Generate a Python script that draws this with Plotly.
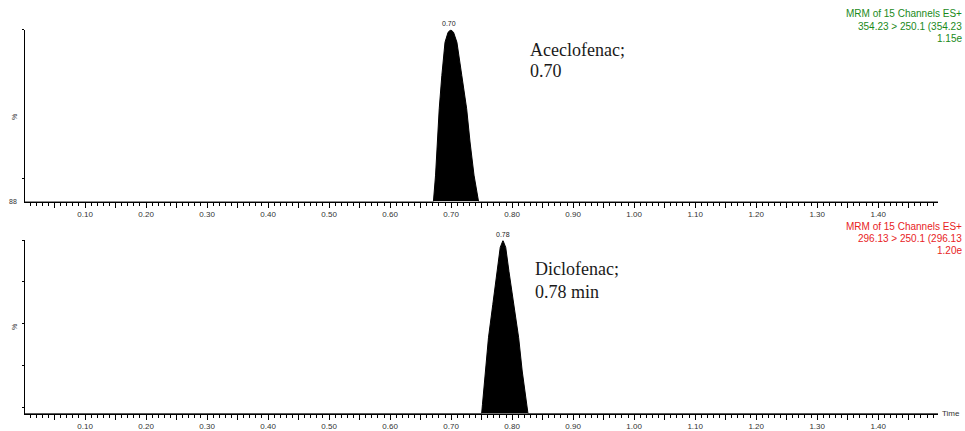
import plotly.graph_objects as go

# ---- data ----
# Aceclofenac peak (time in min, intensity in %)
ace_time = [0.0, 0.671, 0.6745, 0.6775, 0.6805, 0.6848, 0.6900, 0.6950, 0.6995,
            0.7040, 0.7095, 0.7175, 0.7255, 0.7310, 0.7375, 0.7450, 1.498]
ace_int = [0, 0, 15.4, 34.7, 54.0, 73.4, 92.7, 98.5, 100,
           98.5, 92.7, 73.4, 54.0, 34.7, 15.4, 0, 0]

# Diclofenac peak
dic_time = [0.0, 0.7500, 0.7514, 0.7558, 0.7612, 0.7683, 0.7759, 0.7805, 0.7850,
            0.7895, 0.7948, 0.8029, 0.8107, 0.8165, 0.8232, 0.8260, 1.498]
dic_int = [0, 0, 5.4, 24.6, 43.8, 63.0, 82.1, 96.0, 100,
           96.0, 82.1, 63.0, 43.8, 24.6, 5.4, 0, 0]

tick_vals = [round(0.05 * i, 2) for i in range(1, 30)]
tick_text = [f"{v:.2f}" if i % 2 == 1 else "" for i, v in enumerate(tick_vals)]

top_header = ["MRM of 15 Channels ES+", "354.23 > 250.1 (354.23", "1.15e"]
bot_header = ["MRM of 15 Channels ES+", "296.13 > 250.1 (296.13", "1.20e"]

W, H = 965, 431
def px(x):
    return x / W
def py(y):
    return (H - y) / H

fig = go.Figure()
fig.add_trace(go.Scatter(x=ace_time, y=ace_int, mode="lines", fill="tozeroy",
                         fillcolor="black", line=dict(color="black", width=1),
                         xaxis="x", yaxis="y", showlegend=False, hoverinfo="skip"))
fig.add_trace(go.Scatter(x=dic_time, y=dic_int, mode="lines", fill="tozeroy",
                         fillcolor="black", line=dict(color="black", width=1),
                         xaxis="x2", yaxis="y2", showlegend=False, hoverinfo="skip"))

xrange = [0.0016, 1.498]
tickfont = dict(family="Liberation Sans, Arial", size=8, color="#333333")

def xaxis_cfg(anchor):
    return dict(domain=[px(25), px(938)], range=xrange, anchor=anchor,
                showline=True, linecolor="black", linewidth=1,
                showgrid=False, zeroline=False,
                tickmode="array", tickvals=tick_vals, ticktext=tick_text,
                ticks="outside", ticklen=5, tickwidth=1, tickcolor="black",
                tickfont=tickfont,
                minor=dict(dtick=0.01, tick0=0, ticks="outside", ticklen=3,
                           tickwidth=1, tickcolor="black", showgrid=False))

def yaxis_cfg(anchor, dom, tv):
    return dict(domain=dom, range=[0, 100], anchor=anchor,
                showline=True, linecolor="black", linewidth=1,
                showgrid=False, zeroline=False,
                tickmode="array", tickvals=tv, ticktext=[""] * len(tv),
                ticks="outside", ticklen=2, tickwidth=1, tickcolor="black")

fig.update_layout(
    width=W, height=H,
    margin=dict(l=0, r=0, t=0, b=0),
    paper_bgcolor="white", plot_bgcolor="white",
    xaxis=xaxis_cfg("y"),
    yaxis=yaxis_cfg("x", [py(203.5), py(30)], [13.5, 100]),
    xaxis2=xaxis_cfg("y2"),
    yaxis2=yaxis_cfg("x2", [py(417.5), py(242.7)], [3.6, 27.5, 51.9, 76.2, 100]),
)

ann = []
def add(text, x, y, size=8, color="#333333", family="Liberation Sans, Arial",
        xanchor="center", yanchor="middle", angle=0):
    ann.append(dict(text=text, x=px(x), y=py(y), xref="paper", yref="paper",
                    showarrow=False, xanchor=xanchor, yanchor=yanchor,
                    textangle=angle,
                    font=dict(size=size, color=color, family=family)))

# headers
for i, t in enumerate(top_header):
    add(t, 964, 14 + i * 12.5, size=10, color="#1a8a1a", xanchor="right")
for i, t in enumerate(bot_header):
    add(t, 964, 229 + i * 11.7, size=10, color="#e8231e", xanchor="right")

# compound labels
serif = "Liberation Serif, Times New Roman"
add("Aceclofenac;", 528, 50, size=18, color="#1a1a1a", family=serif, xanchor="left")
add("0.70", 528, 72, size=18, color="#1a1a1a", family=serif, xanchor="left")
add("Diclofenac;", 533, 272, size=18, color="#1a1a1a", family=serif, xanchor="left")
add("0.78 min", 533, 295, size=18, color="#1a1a1a", family=serif, xanchor="left")

# peak apex labels
add("0.70", 449, 24, size=7, color="#222222")
add("0.78", 503, 237, size=7, color="#222222")

# y-axis labels
add("%", 15, 118, size=7, angle=-90)
add("%", 15, 330, size=7, angle=-90)
add("88", 13, 203, size=7)
add("Time", 951, 417, size=8)

fig.update_layout(annotations=ann)
fig.write_html(
    "out.html",
    config={"displayModeBar": False},
    post_script="document.body.style.margin='0';document.body.style.overflow='hidden';",
)
